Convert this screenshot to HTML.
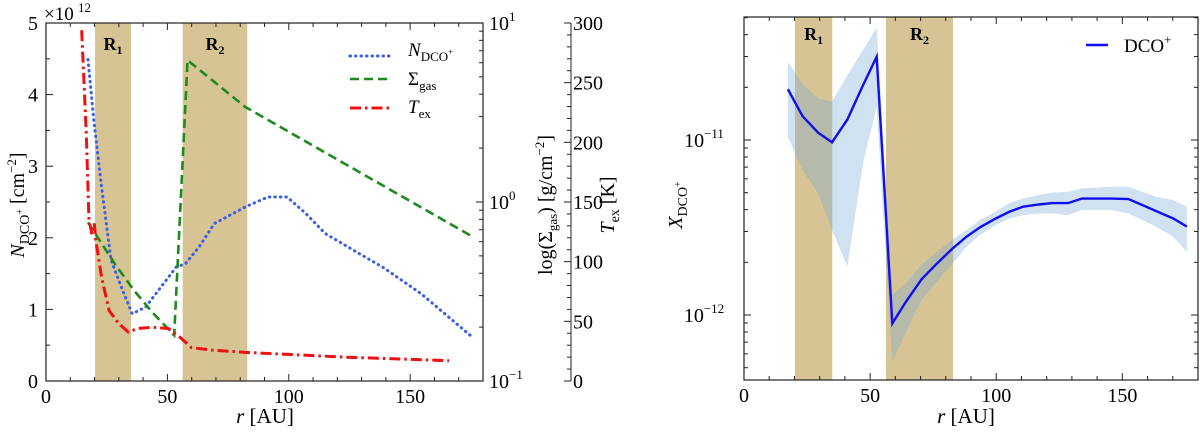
<!DOCTYPE html>
<html><head><meta charset="utf-8">
<style>
html,body{margin:0;padding:0;background:#fff;}
svg{display:block;font-family:"Liberation Serif",serif;}
</style></head>
<body>
<svg id="c" width="1200" height="433" viewBox="0 0 1200 433" xmlns="http://www.w3.org/2000/svg"></svg>
<script>
// ---------- data ----------
const regionR1 = [20.2, 35.0];
const regionR2 = [56.3, 82.9];
const nR = [17.3,19.7,22.9,26.8,31.5,35.5,41,47.3,53.6,57.5,63,69.4,82,91.4,99.3,107,115,129,138.7,154.5,175.7];
const nVal = [4.49,3.64,2.71,1.69,1.27,0.94,1.03,1.31,1.59,1.64,1.87,2.2,2.43,2.57,2.57,2.34,2.06,1.78,1.59,1.22,0.61];
const sR = [17.3,28.4,36.3,44,52.8,58.3,82,175.7];
const sVal = [0.77,0.45,0.32,0.24,0.18,6.2,3.4,0.64];
const tR = [14.7,16.6,17.7,18.9,19.9,20.5,22.9,26,30,33.9,37.8,44,50.4,55,59.9,67.8,82,123,166];
const tVal = [294,207,135,123,132,118,87,59,48,41,44,45,44,37,28,26,24,20,17];
const xR = [17.4,23.2,29.4,34.9,41,47.2,52.6,58.8,64.2,70.4,76.5,82.7,88.2,93.6,99.8,105.2,110.7,116.9,122.3,128.5,134,145.6,152.4,157.9,163.3,170.2,175.6];
const xVal = [1.95e-11,1.37e-11,1.1e-11,9.7e-12,1.31e-11,2.06e-11,2.99e-11,8.95e-13,1.19e-12,1.6e-12,1.97e-12,2.4e-12,2.8e-12,3.17e-12,3.56e-12,3.89e-12,4.16e-12,4.28e-12,4.36e-12,4.36e-12,4.63e-12,4.63e-12,4.6e-12,4.25e-12,3.93e-12,3.56e-12,3.2e-12];
const xHi = [2.8e-11,2.1e-11,1.73e-11,1.66e-11,2.35e-11,3.27e-11,4.4e-11,1.3e-12,1.52e-12,1.94e-12,2.3e-12,2.7e-12,3.06e-12,3.49e-12,3.9e-12,4.35e-12,4.64e-12,4.85e-12,5e-12,5.06e-12,5.3e-12,5.4e-12,5.4e-12,5.06e-12,4.74e-12,4.54e-12,4.16e-12];
const xLo = [1.04e-11,6.73e-12,4.96e-12,3.06e-12,1.89e-12,7.36e-12,1.55e-11,5.4e-13,8e-13,1.22e-12,1.55e-12,1.97e-12,2.46e-12,2.87e-12,3.27e-12,3.56e-12,3.72e-12,3.8e-12,3.8e-12,3.72e-12,3.98e-12,3.98e-12,3.8e-12,3.49e-12,3.2e-12,2.8e-12,2.3e-12];
const xTicks = [0,50,100,150];
const nTicks = [0,1,2,3,4,5];
const tTicks = [0,50,100,150,200,250,300];

const NS="http://www.w3.org/2000/svg";
const svg=document.getElementById('c');
function el(tag,attrs,parent,txt){const e=document.createElementNS(NS,tag);for(const k in attrs)e.setAttribute(k,attrs[k]);if(txt!==undefined)e.textContent=txt;(parent||svg).appendChild(e);return e;}

// ---------- left panel scales ----------
const L={x0:46,x1:483,y0:381,y1:23};
const lx=r=>L.x0+(r/180)*(L.x1-L.x0);
const ly=v=>L.y0-(v/5)*(L.y0-L.y1);
const lyLog=v=>L.y0-((Math.log10(v)+1)/2)*(L.y0-L.y1);
const lyT=v=>L.y0-(v/300)*(L.y0-L.y1);
const TX=571;

const gl=el('g',{});


const tan='rgb(214,196,148)';
[[regionR1,'R','1','band-r1'],[regionR2,'R','2','band-r2']].forEach(([rg,a,s,n])=>{
  const r=el('rect',{x:lx(rg[0]),y:L.y1,width:lx(rg[1])-lx(rg[0]),height:L.y0-L.y1,fill:tan},gl);
  
  
  const t=el('text',{x:(lx(rg[0])+lx(rg[1]))/2,y:50,'text-anchor':'middle','font-size':18,'font-weight':'bold'},gl);
  
  
  t.textContent=a; el('tspan',{'font-size':12,dy:4},t,s);
});
function poly(xs,ys,fx,fy,attrs,name,parent){
  const p=el('polyline',Object.assign({fill:'none',points:xs.map((x,i)=>fx(x)+','+fy(ys[i])).join(' ')},attrs),parent);
  
  
  return p;
}
poly(nR,nVal,lx,ly,{stroke:'#3a5ee8','stroke-width':3,'stroke-dasharray':'0.5 5','stroke-linecap':'round'},'n-dco-line',gl);
poly(sR,sVal,lx,lyLog,{stroke:'#1d8a1d','stroke-width':2.6,'stroke-dasharray':'9 5'},'sigma-gas-line',gl);
poly(tR,tVal,lx,lyT,{stroke:'#ee1111','stroke-width':3,'stroke-dasharray':'11 4 2.5 4'},'tex-line',gl);
el('rect',{x:L.x0,y:L.y1,width:L.x1-L.x0,height:L.y0-L.y1,fill:'none',stroke:'#222','stroke-width':1.2},gl);
for(let r=0;r<=180;r+=10){const x=lx(r),m=r%50===0?7:4;
  el('line',{x1:x,x2:x,y1:L.y0,y2:L.y0-m,stroke:'#222'},gl);el('line',{x1:x,x2:x,y1:L.y1,y2:L.y1+m,stroke:'#222'},gl);}
xTicks.forEach(v=>{const t=el('text',{x:lx(v),y:L.y0+22,'text-anchor':'middle','font-size':20},gl,v);
  });
for(let v=0;v<=5.001;v+=0.5){const y=ly(v),m=Math.abs(v%1)<1e-6?7:4;el('line',{x1:L.x0,x2:L.x0+m,y1:y,y2:y,stroke:'#222'},gl);}
nTicks.forEach(v=>{const t=el('text',{x:L.x0-8,y:ly(v)+7,'text-anchor':'end','font-size':20},gl,v);
  });
el('text',{x:44,y:20,'font-size':19},gl,'×10');
el('text',{x:78,y:12,'font-size':13},gl,'12');
for(let d=-1;d<1;d++){for(let k=1;k<10;k++){const y=lyLog(k*Math.pow(10,d));const m=k===1?7:4;el('line',{x1:L.x1,x2:L.x1-m,y1:y,y2:y,stroke:'#222'},gl);}}
el('line',{x1:L.x1,x2:L.x1-7,y1:L.y1,y2:L.y1,stroke:'#222'},gl);
[[-1,L.y0],[0,lyLog(1)],[1,L.y1]].forEach(([e,y])=>{const t=el('text',{x:L.x1+6,y:y+7,'font-size':20},gl,'10');el('tspan',{'font-size':13,dy:-9},t,e===-1?'−1':e);});
el('line',{x1:TX,x2:TX,y1:L.y1,y2:L.y0,stroke:'#222'},gl);
for(let v=0;v<=300;v+=10){const y=lyT(v),m=v%50===0?7:4;el('line',{x1:TX,x2:TX-m,y1:y,y2:y,stroke:'#222'},gl);}
tTicks.forEach(v=>{const t=el('text',{x:TX+2,y:lyT(v)+7,'font-size':20},gl,v);
  });
let t=el('text',{x:0,y:0,'font-size':20,transform:'translate(24,205) rotate(-90)','text-anchor':'middle'},gl);

el('tspan',{'font-style':'italic'},t,'N');el('tspan',{'font-size':14,dy:5},t,'DCO');el('tspan',{'font-size':10,dy:-6},t,'+');el('tspan',{dy:1},t,' [cm');el('tspan',{'font-size':13,dy:-8},t,'−2');el('tspan',{dy:8},t,']');
t=el('text',{x:0,y:0,'font-size':20,transform:'translate(552,205) rotate(-90)','text-anchor':'middle'},gl);

el('tspan',{},t,'log(Σ');el('tspan',{'font-size':13,dy:5},t,'gas');el('tspan',{dy:-5},t,') [g/cm');el('tspan',{'font-size':13,dy:-8},t,'−2');el('tspan',{dy:8},t,']');
t=el('text',{x:0,y:0,'font-size':20,transform:'translate(614,205) rotate(-90)','text-anchor':'middle'},gl);

el('tspan',{'font-style':'italic'},t,'T');el('tspan',{'font-size':14,dy:5},t,'ex');el('tspan',{dy:-5},t,' [K]');
t=el('text',{x:265,y:423,'font-size':21,'text-anchor':'middle'},gl);

el('tspan',{'font-style':'italic'},t,'r');el('tspan',{},t,' [AU]');
const lg=el('g',{},gl);
el('line',{x1:350,x2:392,y1:56,y2:56,stroke:'#3a5ee8','stroke-width':3,'stroke-dasharray':'0.5 5','stroke-linecap':'round'},lg);
el('line',{x1:350,x2:392,y1:79,y2:79,stroke:'#1d8a1d','stroke-width':2.6,'stroke-dasharray':'9 5'},lg);
el('line',{x1:350,x2:392,y1:108,y2:108,stroke:'#ee1111','stroke-width':3,'stroke-dasharray':'11 4 2.5 4'},lg);
t=el('text',{x:408,y:56,'font-size':19},lg);el('tspan',{'font-style':'italic'},t,'N');el('tspan',{'font-size':13,dy:5},t,'DCO');el('tspan',{'font-size':9,dy:-6},t,'+');
t=el('text',{x:408,y:85,'font-size':19},lg);el('tspan',{},t,'Σ');el('tspan',{'font-size':13,dy:5},t,'gas');
t=el('text',{x:408,y:113,'font-size':19},lg);el('tspan',{'font-style':'italic'},t,'T');el('tspan',{'font-size':13,dy:5},t,'ex');

// ---------- right panel ----------
const R={x0:744,x1:1198,y0:380,y1:17};
const rx=r=>R.x0+(r/180)*(R.x1-R.x0);
const ry=v=>140-(Math.log10(v)+11)*175;
const gr=el('g',{});
[[regionR1,'1','right-band-r1'],[regionR2,'2','right-band-r2']].forEach(([rg,s,n])=>{
  const r=el('rect',{x:rx(rg[0]),y:R.y1,width:rx(rg[1])-rx(rg[0]),height:R.y0-R.y1,fill:tan},gr);
  
  const tt=el('text',{x:(rx(rg[0])+rx(rg[1]))/2,y:40,'text-anchor':'middle','font-size':18,'font-weight':'bold'},gr);
  tt.textContent='R';el('tspan',{'font-size':12,dy:4},tt,s);
});
const band=el('polygon',{fill:'rgba(120,170,215,0.35)',points:xR.map((r,i)=>rx(r)+','+ry(xHi[i])).concat(xR.slice().reverse().map((r,j)=>rx(r)+','+ry(xLo[xR.length-1-j]))).join(' ')},gr);

poly(xR,xVal,rx,ry,{stroke:'#1010ee','stroke-width':2.4},'x-dco-line',gr);
el('rect',{x:R.x0,y:R.y1,width:R.x1-R.x0,height:R.y0-R.y1,fill:'none',stroke:'#222','stroke-width':1.2},gr);
for(let r=0;r<=180;r+=10){const x=rx(r),m=r%50===0?7:4;
  el('line',{x1:x,x2:x,y1:R.y0,y2:R.y0-m,stroke:'#222'},gr);el('line',{x1:x,x2:x,y1:R.y1,y2:R.y1+m,stroke:'#222'},gr);}
xTicks.forEach(v=>{const tt=el('text',{x:rx(v),y:R.y0+22,'text-anchor':'middle','font-size':20},gr,v);
  });
for(let d=-13;d<-10;d++){for(let k=1;k<10;k++){const v=k*Math.pow(10,d),y=ry(v);if(y<R.y1||y>R.y0)continue;const m=k===1?7:4;
  el('line',{x1:R.x0,x2:R.x0+m,y1:y,y2:y,stroke:'#222'},gr);el('line',{x1:R.x1,x2:R.x1-m,y1:y,y2:y,stroke:'#222'},gr);}}
[-11,-12].forEach(e=>{const tt=el('text',{x:R.x0-40,y:ry(Math.pow(10,e))+7,'font-size':20,'text-anchor':'middle'},gr,'10');el('tspan',{'font-size':13,dy:-9},tt,'−'+(-e));});
t=el('text',{x:0,y:0,'font-size':20,transform:'translate(682,205) rotate(-90)','text-anchor':'middle'},gr);

el('tspan',{'font-style':'italic'},t,'X');el('tspan',{'font-size':14,dy:5},t,'DCO');el('tspan',{'font-size':10,dy:-6},t,'+');
t=el('text',{x:966,y:423,'font-size':21,'text-anchor':'middle'},gr);

el('tspan',{'font-style':'italic'},t,'r');el('tspan',{},t,' [AU]');
const rl=el('g',{},gr);
el('line',{x1:1086,x2:1108,y1:45,y2:45,stroke:'#1010ee','stroke-width':2.4},rl);
t=el('text',{x:1124,y:52,'font-size':19},rl,'DCO');el('tspan',{'font-size':13,dy:-8},t,'+');
</script>
</body></html>
